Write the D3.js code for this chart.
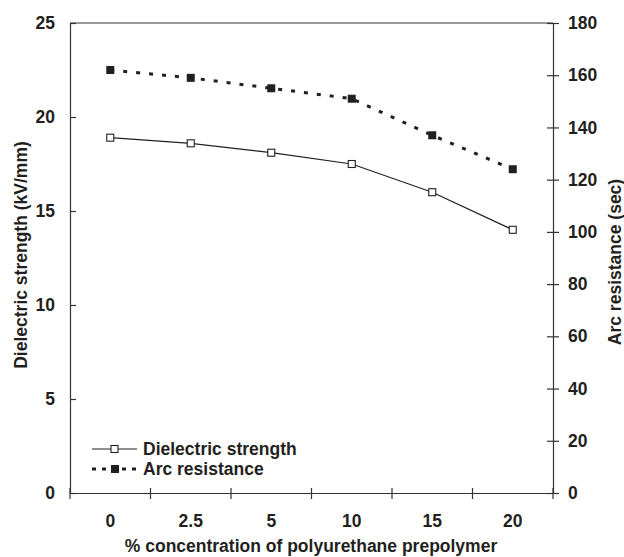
<!DOCTYPE html>
<html>
<head>
<meta charset="utf-8">
<script src="https://cdn.jsdelivr.net/npm/d3@7"></script>
<style>
  body { margin: 0; background: #fff; }
  text { font-family: "Liberation Sans", Arial, sans-serif; font-weight: bold; fill: #231f20; }
</style>
</head>
<body>
<div id="chart"></div>
<script>
// Data
const concentrations = ["0", "2.5", "5", "10", "15", "20"];
const dielectricStrength = [18.9, 18.6, 18.1, 17.5, 16.0, 14.0];
const arcResistance = [162, 159, 155, 151, 137, 124];
const leftTicks = [0, 5, 10, 15, 20, 25];
const rightTicks = [0, 20, 40, 60, 80, 100, 120, 140, 160, 180];

const width = 624, height = 557;
const margin = { top: 23, right: 71, bottom: 64, left: 70 };
const innerW = width - margin.left - margin.right;
const innerH = height - margin.top - margin.bottom;
const fs = "17.5px";

const svg = d3.select("#chart").append("svg")
  .attr("width", width)
  .attr("height", height);

const g = svg.append("g").attr("transform", `translate(${margin.left},${margin.top})`);

const x = d3.scaleBand().domain(concentrations).range([0, innerW]);
const yLeft = d3.scaleLinear().domain([0, 25]).range([innerH, 0]);
const yRight = d3.scaleLinear().domain([0, 180]).range([innerH, 0]);

const axisColor = "#333";

// top border
g.append("line")
  .attr("x1", 0).attr("x2", innerW)
  .attr("y1", 0).attr("y2", 0)
  .attr("stroke", axisColor).attr("stroke-width", 1.2);

// left axis (ticks crossing the line)
const gl = g.append("g")
  .call(d3.axisLeft(yLeft).tickValues(leftTicks).tickSizeInner(6).tickSizeOuter(0));
gl.selectAll(".tick line").attr("x2", 6);
gl.selectAll(".tick text").attr("x", -15).style("font-size", fs);

// right axis
const gr = g.append("g").attr("transform", `translate(${innerW},0)`)
  .call(d3.axisRight(yRight).tickValues(rightTicks).tickSizeInner(6).tickSizeOuter(0));
gr.selectAll(".tick line").attr("x1", -6);
gr.selectAll(".tick text").attr("x", 15).style("font-size", fs);

// bottom axis: ticks at band boundaries
const gb = g.append("g").attr("transform", `translate(0,${innerH})`)
  .call(d3.axisBottom(x).tickSize(0).tickPadding(22));
gb.selectAll(".tick text").style("font-size", fs);
const boundaries = concentrations.map(c => x(c)).concat([innerW]);
gb.selectAll(".bt").data(boundaries).enter().append("line")
  .attr("x1", d => d).attr("x2", d => d)
  .attr("y1", -5).attr("y2", 6)
  .attr("stroke", axisColor).attr("stroke-width", 1.2);

[gl, gr, gb].forEach(a => {
  a.select(".domain").attr("stroke", axisColor).attr("stroke-width", 1.2);
  a.selectAll(".tick line").attr("stroke", axisColor).attr("stroke-width", 1.2);
  a.selectAll("text").attr("fill", "#231f20");
});

const cx = c => x(c) + x.bandwidth() / 2;

// Arc resistance (dashed, filled squares)
const arcLine = d3.line().x((d, i) => cx(concentrations[i])).y(d => yRight(d));
g.append("path").datum(arcResistance)
  .attr("d", arcLine)
  .attr("fill", "none").attr("stroke", "#231f20")
  .attr("stroke-width", 3).attr("stroke-dasharray", "4,9");
g.selectAll(".arc-pt").data(arcResistance).enter().append("rect")
  .attr("x", (d, i) => cx(concentrations[i]) - 4)
  .attr("y", d => yRight(d) - 4)
  .attr("width", 8).attr("height", 8)
  .attr("fill", "#231f20");

// Dielectric strength (solid, open squares)
const dsLine = d3.line().x((d, i) => cx(concentrations[i])).y(d => yLeft(d));
g.append("path").datum(dielectricStrength)
  .attr("d", dsLine)
  .attr("fill", "none").attr("stroke", "#231f20").attr("stroke-width", 1.2);
g.selectAll(".ds-pt").data(dielectricStrength).enter().append("rect")
  .attr("x", (d, i) => cx(concentrations[i]) - 3.5)
  .attr("y", d => yLeft(d) - 3.5)
  .attr("width", 7).attr("height", 7)
  .attr("fill", "#fff").attr("stroke", "#231f20").attr("stroke-width", 1.1);

// Legend
const lg = svg.append("g");
lg.append("line").attr("x1", 92).attr("x2", 137).attr("y1", 449).attr("y2", 449)
  .attr("stroke", "#231f20").attr("stroke-width", 1.2);
lg.append("rect").attr("x", 111).attr("y", 445.5).attr("width", 7).attr("height", 7)
  .attr("fill", "#fff").attr("stroke", "#231f20").attr("stroke-width", 1.1);
lg.append("text").attr("x", 143).attr("y", 455).style("font-size", fs).text("Dielectric strength");
lg.append("line").attr("x1", 92).attr("x2", 137).attr("y1", 469).attr("y2", 469)
  .attr("stroke", "#231f20").attr("stroke-width", 3).attr("stroke-dasharray", "4,6");
lg.append("rect").attr("x", 111).attr("y", 465).attr("width", 8).attr("height", 8)
  .attr("fill", "#231f20");
lg.append("text").attr("x", 143).attr("y", 475).style("font-size", fs).text("Arc resistance");

// Axis titles
svg.append("text")
  .attr("x", 311).attr("y", 552)
  .attr("text-anchor", "middle").style("font-size", fs)
  .text("% concentration of polyurethane prepolymer");
svg.append("text")
  .attr("transform", `translate(27,255) rotate(-90)`)
  .attr("text-anchor", "middle").style("font-size", fs)
  .text("Dielectric strength (kV/mm)");
svg.append("text")
  .attr("transform", `translate(621,262) rotate(-90)`)
  .attr("text-anchor", "middle").style("font-size", fs)
  .text("Arc resistance (sec)");
</script>
</body>
</html>
